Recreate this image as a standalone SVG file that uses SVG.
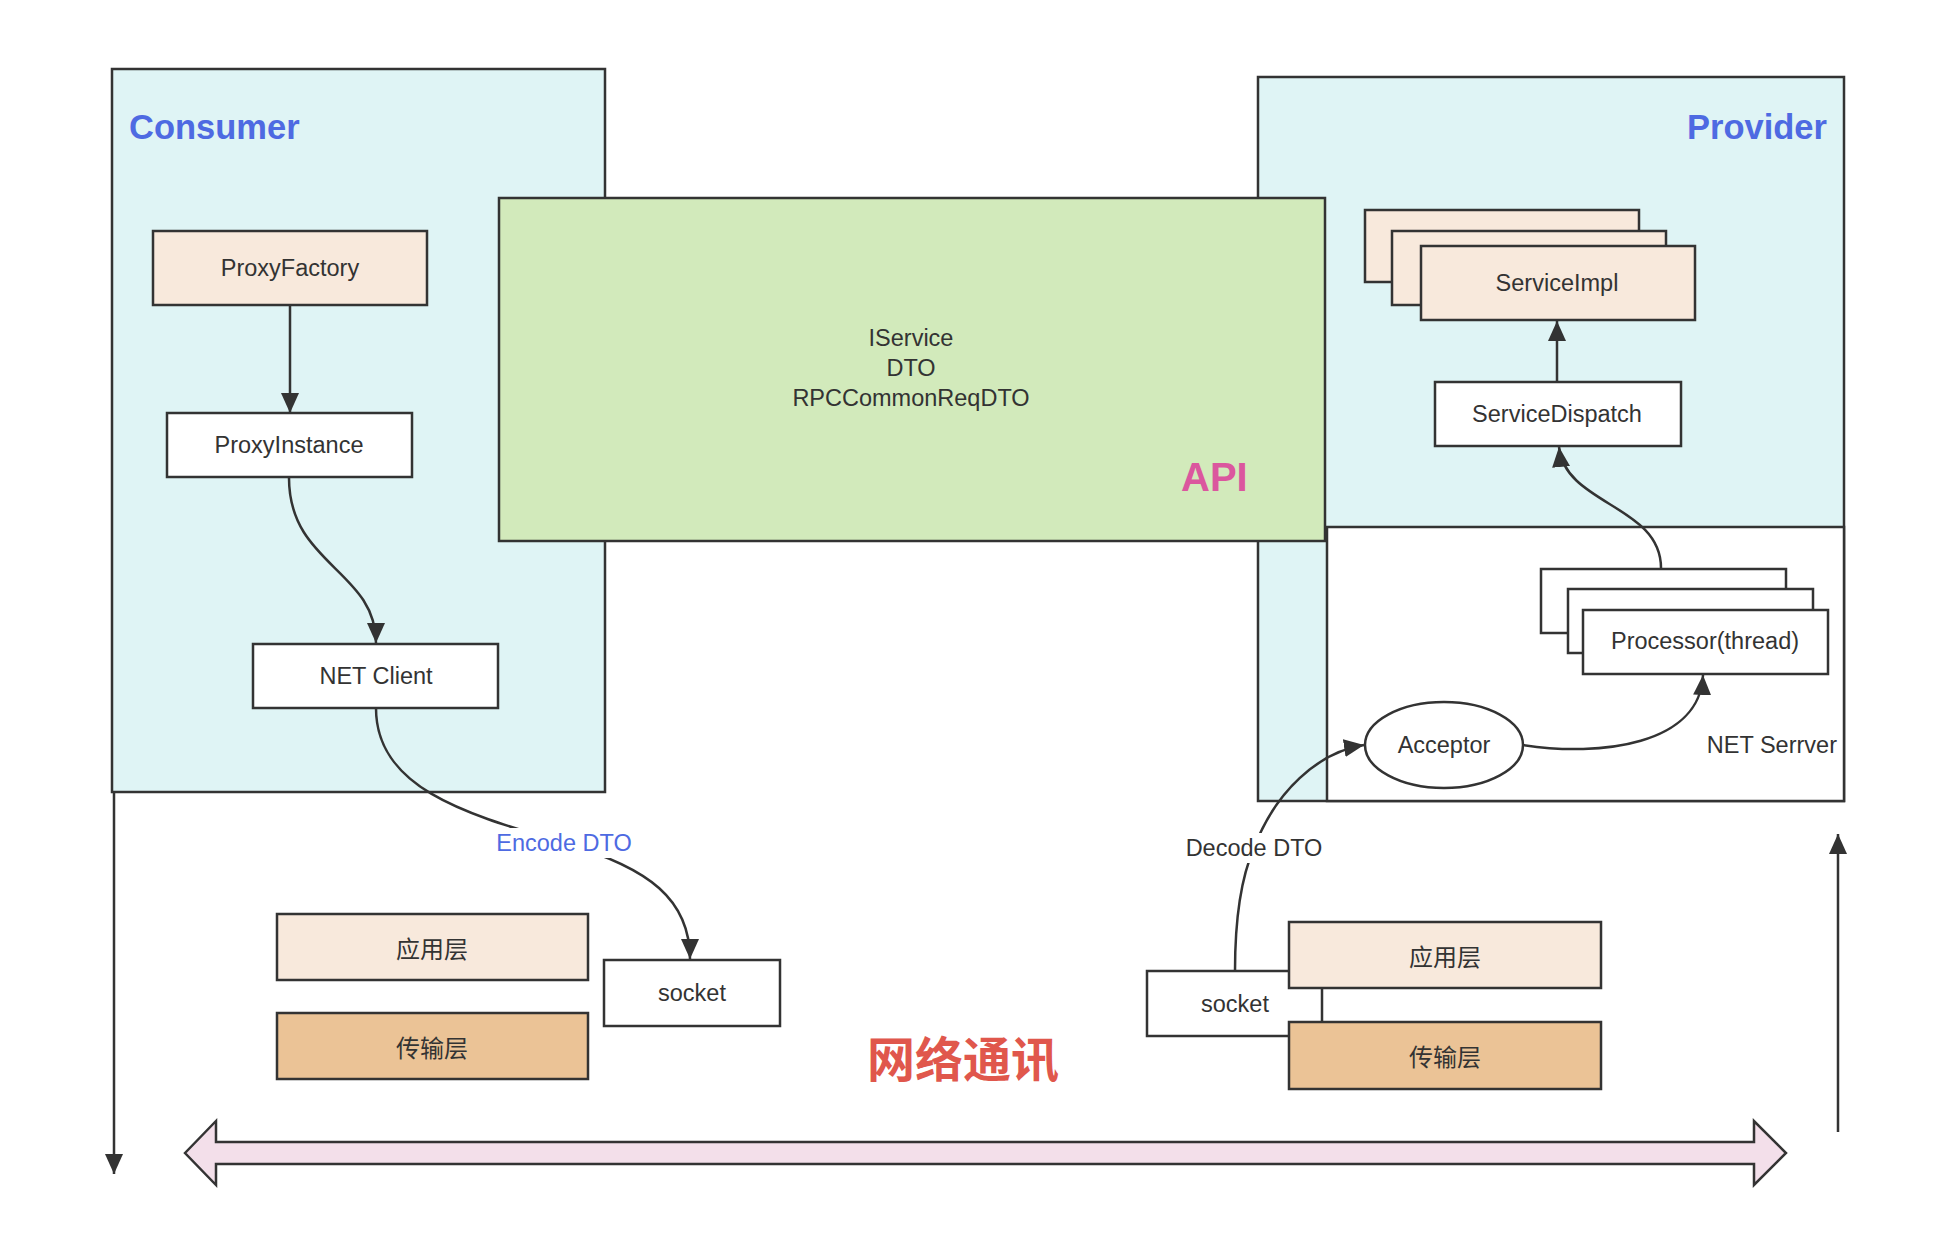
<svg xmlns="http://www.w3.org/2000/svg" width="1944" height="1252" viewBox="0 0 1944 1252">
<defs>
<style>
.box{stroke:#333;stroke-width:2.5}
.w{fill:#fff}
.peach{fill:#f8e9dc}
.tan{fill:#ebc396}
.t{font-family:"Liberation Sans",Arial,sans-serif;font-size:23.5px;fill:#333;text-anchor:middle;dominant-baseline:central}
.end{text-anchor:end}
.cjk{font-family:"Noto Sans CJK SC","Liberation Sans",sans-serif;font-size:24px;fill:#333;text-anchor:middle;dominant-baseline:central}
.title{font-family:"Liberation Sans",Arial,sans-serif;font-size:34.5px;font-weight:bold;fill:#4e6ae2}
.edge{fill:none;stroke:#333;stroke-width:2.5}
</style>
<marker id="ah" markerUnits="userSpaceOnUse" markerWidth="22" markerHeight="18" refX="20" refY="9" orient="auto">
<path d="M0,0 L20,9 L0,18 z" fill="#333"/>
</marker>
</defs>
<rect width="1944" height="1252" fill="#fff"/>

<g id="consumer">
<rect class="box" x="112" y="69" width="493" height="723" fill="#dff4f5"/>
<text class="title" x="129" y="139">Consumer</text>
</g>
<g id="provider">
<rect class="box" x="1258" y="77" width="586" height="724" fill="#dff4f5"/>
<text class="title" x="1827" y="139" text-anchor="end">Provider</text>
</g>
<g id="net-server">
<rect class="box w" x="1327" y="527" width="517" height="274"/>
<text class="t end" x="1837" y="745">NET Serrver</text>
</g>
<g id="api">
<rect class="box" x="499" y="198" width="826" height="343" fill="#d2eabb"/>
<text class="t" x="911" y="338">IService</text>
<text class="t" x="911" y="368">DTO</text>
<text class="t" x="911" y="398">RPCCommonReqDTO</text>
<text x="1181" y="491" font-family="Liberation Sans,Arial,sans-serif" font-size="40" font-weight="bold" fill="#db579e">API</text>
</g>

<g id="proxy-factory">
<rect class="box peach" x="153" y="231" width="274" height="74"/>
<text class="t" x="290" y="268">ProxyFactory</text>
</g>
<g id="proxy-instance">
<rect class="box w" x="167" y="413" width="245" height="64"/>
<text class="t" x="289" y="445">ProxyInstance</text>
</g>
<g id="net-client">
<rect class="box w" x="253" y="644" width="245" height="64"/>
<text class="t" x="376" y="676">NET Client</text>
</g>

<g id="service-impl">
<rect class="box peach" x="1365" y="210" width="274" height="72"/>
<rect class="box peach" x="1392" y="231" width="274" height="74"/>
<rect class="box peach" x="1421" y="246" width="274" height="74"/>
<text class="t" x="1557" y="283">ServiceImpl</text>
</g>
<g id="service-dispatch">
<rect class="box w" x="1435" y="382" width="246" height="64"/>
<text class="t" x="1557" y="414">ServiceDispatch</text>
</g>
<g id="processor">
<rect class="box w" x="1541" y="569" width="245" height="64"/>
<rect class="box w" x="1568" y="589" width="245" height="64"/>
<rect class="box w" x="1583" y="610" width="245" height="64"/>
<text class="t" x="1705" y="641">Processor(thread)</text>
</g>
<g id="acceptor">
<ellipse class="box w" cx="1444" cy="745" rx="79" ry="43"/>
<text class="t" x="1444" y="745">Acceptor</text>
</g>

<g id="socket-left">
<rect class="box w" x="604" y="960" width="176" height="66"/>
<text class="t" x="692" y="993">socket</text>
</g>
<g id="app-left">
<rect class="box peach" x="277" y="914" width="311" height="66"/>
<text class="cjk" x="432" y="947">应用层</text>
</g>
<g id="trans-left">
<rect class="box tan" x="277" y="1013" width="311" height="66"/>
<text class="cjk" x="432" y="1046">传输层</text>
</g>

<g id="socket-right">
<rect class="box w" x="1147" y="971" width="175" height="65"/>
<text class="t" x="1235" y="1004">socket</text>
</g>
<g id="app-right">
<rect class="box peach" x="1289" y="922" width="312" height="66"/>
<text class="cjk" x="1445" y="955">应用层</text>
</g>
<g id="trans-right">
<rect class="box tan" x="1289" y="1022" width="312" height="67"/>
<text class="cjk" x="1445" y="1055">传输层</text>
</g>

<g id="network">
<text x="963" y="1056" font-family="Noto Sans CJK SC,sans-serif" font-size="48" font-weight="bold" fill="#e0574c" text-anchor="middle" dominant-baseline="central">网络通讯</text>
<polygon points="185,1153 216,1121 216,1142 1754,1142 1754,1121 1786,1153 1754,1185 1754,1164 216,1164 216,1185" fill="#f3dfea" stroke="#333" stroke-width="2.5" stroke-linejoin="miter"/>
</g>

<g id="connectors">
<path class="edge" d="M290,305 L290,413" marker-end="url(#ah)"/>
<path class="edge" d="M289,478 C289,565 376,570 376,643" marker-end="url(#ah)"/>
<path class="edge" d="M376,708 C376,790 470,815 564,843 C650,868 690,900 690,959" marker-end="url(#ah)"/>
<path class="edge" d="M1235,971 C1235,920 1240,880 1254,848 C1275,792 1318,752 1364,745" marker-end="url(#ah)"/>
<path class="edge" d="M1523,745 C1600,757 1700,745 1703,675" marker-end="url(#ah)"/>
<path class="edge" d="M1661,568 C1661,505 1565,505 1559,447" marker-end="url(#ah)"/>
<path class="edge" d="M1557,382 L1557,321" marker-end="url(#ah)"/>
<path class="edge" d="M114,792 L114,1174" marker-end="url(#ah)"/>
<path class="edge" d="M1838,1132 L1838,834" marker-end="url(#ah)"/>
<rect x="494" y="828" width="140" height="30" fill="#fff"/>
<text class="t" x="564" y="843" style="fill:#4e6ae2">Encode DTO</text>
<rect x="1184" y="833" width="140" height="30" fill="#fff"/>
<text class="t" x="1254" y="848">Decode DTO</text>
</g>
</svg>
